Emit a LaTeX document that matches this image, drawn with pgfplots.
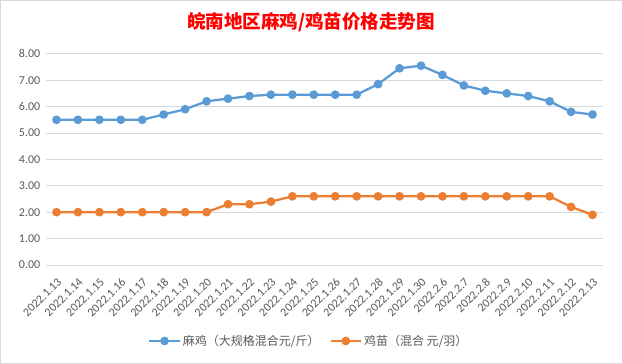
\documentclass[border=0pt]{standalone}
\usepackage{fontspec}
\setmainfont{Carlito}
\newfontfamily\cjk{Noto Sans CJK SC}
\usepackage{pgfplots}
\pgfplotsset{compat=1.18}
\definecolor{sblue}{HTML}{5B9BD5}
\definecolor{sorange}{HTML}{ED7D31}
\definecolor{tickgray}{HTML}{595959}
\definecolor{gridgray}{HTML}{D9D9D9}
\begin{document}
\begin{tikzpicture}
\path[draw=gridgray, fill=white, line width=0.5pt] (-45.5pt,-98.5pt) rectangle (575.5pt,264.5pt);
\begin{axis}[
  at={(0,0)}, anchor=south west,
  scale only axis, width=557pt, height=211pt,
  xmin=-0.5, xmax=25.5, ymin=0, ymax=8,
  ytick={0,1,...,8},
  xtick={0,...,25},
  xticklabels={2022.1.13,2022.1.14,2022.1.15,2022.1.16,2022.1.17,2022.1.18,2022.1.19,2022.1.20,2022.1.21,2022.1.22,2022.1.23,2022.1.24,2022.1.25,2022.1.26,2022.1.27,2022.1.28,2022.1.29,2022.1.30,2022.2.6,2022.2.7,2022.2.8,2022.2.9,2022.2.10,2022.2.11,2022.2.12,2022.2.13},
  axis line style={draw=none},
  major tick length=0pt,
  ymajorgrids, grid style={gridgray, line width=0.75pt},
  /pgf/number format/assume math mode=true,
  yticklabel style={font=\fontsize{12}{14}\selectfont, text=tickgray, xshift=-2pt, /pgf/number format/.cd, fixed, fixed zerofill, precision=2},
  xticklabel style={xshift=3pt, yshift=-15pt, rotate=45, anchor=east, inner sep=0pt, font=\fontsize{12}{14}\selectfont, text=tickgray},
  legend style={at={(0.472,-0.36)}, anchor=center, draw=none, fill=none, legend columns=2, font=\cjk\fontsize{12}{14}\selectfont, text=tickgray, /tikz/every even column/.append style={column sep=8pt}},
  legend image code/.code={\draw[mark repeat=2,mark phase=2,#1] plot coordinates {(0cm,0cm) (0.53cm,0cm) (1.06cm,0cm)};},
  every axis plot/.append style={line width=2.25pt, line join=round, mark=*, mark size=3.2pt, mark options={solid}},
]
\addplot[color=sblue] coordinates {
(0,5.5)(1,5.5)(2,5.5)(3,5.5)(4,5.5)(5,5.7)(6,5.9)(7,6.2)(8,6.3)(9,6.4)(10,6.45)(11,6.45)(12,6.45)(13,6.45)(14,6.45)(15,6.85)(16,7.45)(17,7.55)(18,7.2)(19,6.8)(20,6.6)(21,6.5)(22,6.4)(23,6.2)(24,5.8)(25,5.7)};
\addlegendentry{麻鸡（大规格混合元/斤）}
\addplot[color=sorange] coordinates {
(0,2.0)(1,2.0)(2,2.0)(3,2.0)(4,2.0)(5,2.0)(6,2.0)(7,2.0)(8,2.3)(9,2.3)(10,2.4)(11,2.6)(12,2.6)(13,2.6)(14,2.6)(15,2.6)(16,2.6)(17,2.6)(18,2.6)(19,2.6)(20,2.6)(21,2.6)(22,2.6)(23,2.6)(24,2.2)(25,1.9)};
\addlegendentry{鸡苗（混合 元/羽）}
\end{axis}
\node[font=\cjk\bfseries\fontsize{18.5}{21}\selectfont, text=red] at (265pt,243pt) {皖南地区麻鸡/鸡苗价格走势图};
\end{tikzpicture}
\end{document}
